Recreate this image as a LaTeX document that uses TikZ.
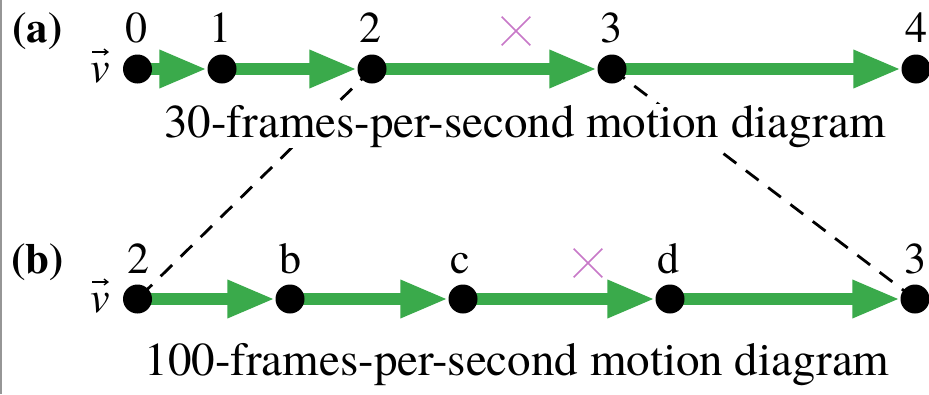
\documentclass[tikz,border=0pt]{standalone}
\usepackage{fontspec}
\setmainfont{texgyretermes}[Extension=.otf,UprightFont=*-regular,BoldFont=*-bold,ItalicFont=*-italic,BoldItalicFont=*-bolditalic]
\usetikzlibrary{arrows.meta,backgrounds,shapes.misc}
\definecolor{arrgreen}{RGB}{58,170,75}
\definecolor{xpink}{RGB}{200,120,200}
\definecolor{edgegray}{RGB}{150,150,150}
\begin{document}
\begin{tikzpicture}[x=1pt,y=-1pt,
  dot/.style={circle,fill=black,minimum size=29pt,inner sep=0pt},
  lbl/.style={anchor=base,inner sep=0pt,font=\fontsize{44}{48}\selectfont},
  partlbl/.style={anchor=base,inner sep=0pt,font=\fontsize{43}{48}\selectfont\bfseries},
  vlbl/.style={anchor=base,inner sep=0pt,font=\fontsize{44}{48}\selectfont\itshape},
  vecarrow/.style={draw=black,line width=1.3pt,-{Straight Barb[length=4pt,width=6pt]}},
  captext/.style={anchor=base,fill=white,inner sep=1pt,font=\fontsize{47}{50}\selectfont},
  vel/.style={draw=arrgreen,line width=12pt,-{Triangle[length=48pt,width=35pt]}},
  dashline/.style={draw=black,line width=2.8pt,dash pattern=on 16pt off 12pt},
  crossmark/.style={cross out,draw=xpink,line width=1.6pt,minimum size=27pt,inner sep=0pt}]
\useasboundingbox (0,0) rectangle (929,394);
% part (a)
\node[partlbl] (pa) at (37.5,42) {(a)};
\node[vlbl] (va) at (100,82) {v};
\coordinate (vas) at (92,52);
\coordinate (vae) at (109,52);
\draw[vecarrow] (vas) -- (vae);
\node[dot] (t0) at (137.5,69) {};
\node[dot] (t1) at (222,69) {};
\node[dot] (t2) at (372,69) {};
\node[dot] (t3) at (612,69) {};
\node[dot] (t4) at (916,69) {};
\node[lbl] (l0) at (136,42) {0};
\node[lbl] (l1) at (220,42) {1};
\node[lbl] (l2) at (370,42) {2};
\node[lbl] (l3) at (611,42) {3};
\node[lbl] (l4) at (916,42) {4};
\node[crossmark] (xa) at (516,31) {};
% part (b)
\node[partlbl] (pb) at (37.5,273) {(b)};
\node[vlbl] (vb) at (100,312) {v};
\coordinate (vbs) at (92,282);
\coordinate (vbe) at (109,282);
\draw[vecarrow] (vbs) -- (vbe);
\node[dot] (b2) at (137.5,299) {};
\node[dot] (bb) at (290,299) {};
\node[dot] (bc) at (463,299) {};
\node[dot] (bd) at (670,299) {};
\node[dot] (b3) at (915,299) {};
\node[lbl] (m2) at (138,273) {2};
\node[lbl] (mb) at (290,273) {b};
\node[lbl] (mc) at (460,273) {c};
\node[lbl] (md) at (668,273) {d};
\node[lbl] (m3) at (915,273) {3};
\node[crossmark] (xb) at (588,263) {};
\begin{scope}[on background layer]
  \fill[white] (0,0) rectangle (929,394);
  \draw[edgegray,line width=2pt] (1,0) -- (1,394);
  \draw[dashline] (t2.center) -- (b2.center);
  \draw[dashline] (t3.center) -- (b3.center);
  \draw[vel] (t0.center) -- (t1.west);
  \draw[vel] (t1.center) -- (t2.west);
  \draw[vel] (t2.center) -- (t3.west);
  \draw[vel] (t3.center) -- (t4.west);
  \draw[vel] (b2.center) -- (bb.west);
  \draw[vel] (bb.center) -- (bc.west);
  \draw[vel] (bc.center) -- (bd.west);
  \draw[vel] (bd.center) -- (b3.west);
\end{scope}
\node[captext] (capa) at (525,137) {30-frames-per-second motion diagram};
\node[captext] (capb) at (517,375) {100-frames-per-second motion diagram};
\end{tikzpicture}
\end{document}
